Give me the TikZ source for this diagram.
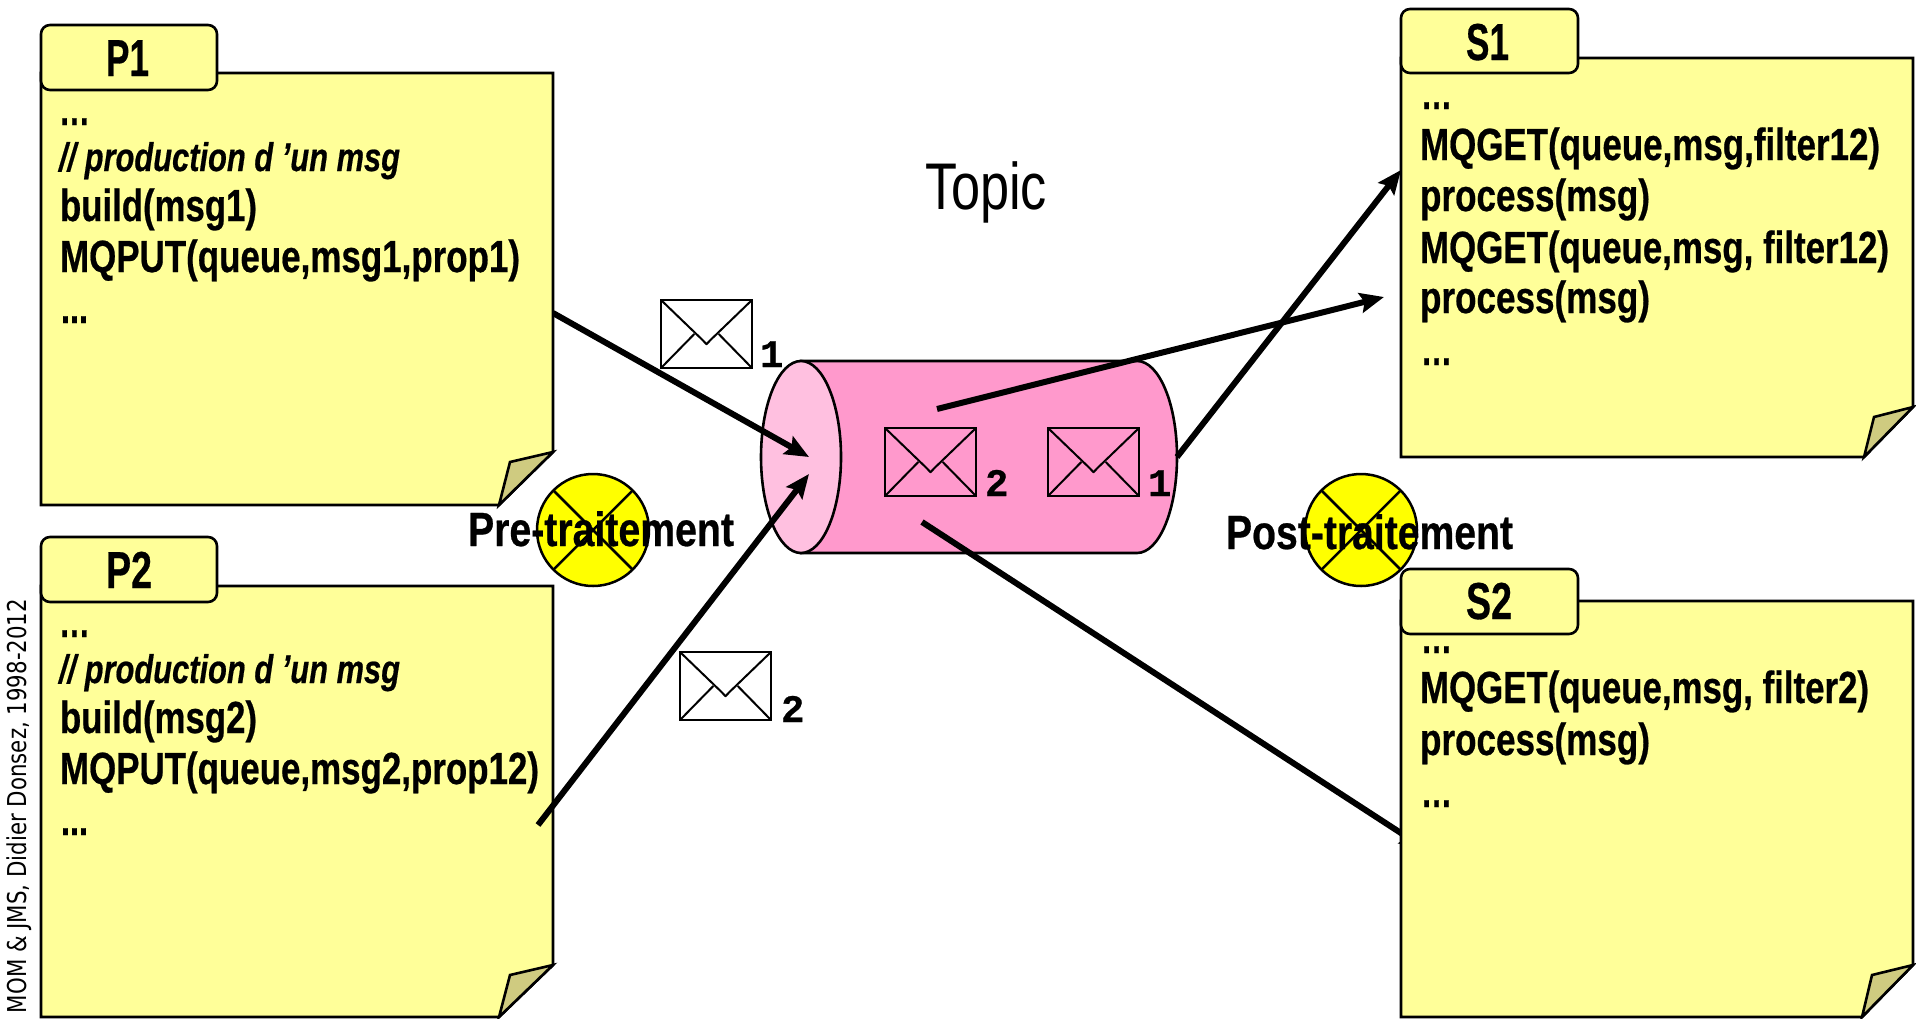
\documentclass[tikz,border=0pt]{standalone}
\usepackage{fontspec}
\usepackage{graphicx}
\setmainfont{Liberation Sans}[BoldFeatures={FakeBold=0.6},BoldItalicFeatures={FakeBold=0.6}]
\newfontfamily\monof{Liberation Mono}[BoldFeatures={FakeBold=0.6}]
\newfontfamily\footf{DejaVu Sans}
\usetikzlibrary{arrows.meta}
\definecolor{noteyellow}{HTML}{FFFF99}
\definecolor{foldcol}{HTML}{CFCB80}
\definecolor{pinkbody}{HTML}{FF99CC}
\definecolor{pinkface}{HTML}{FFC0E0}
\definecolor{xyellow}{HTML}{FFFF00}
\newcommand{\fitw}[2]{\resizebox{#1pt}{\height}{#2}}
% left, top, right, fold y on right, fold x on bottom, bottom, fold inner corner
\newcommand{\notebody}[7]{%
  \draw[noteline,fill=noteyellow] (#1,#2) -- (#3,#2) -- (#3,#4) -- (#5,#6) -- (#1,#6) -- cycle;
  \draw[noteline,fill=foldcol] (#3,#4) -- (#7) -- (#5,#6) -- cycle;
}
\newcommand{\envel}[3]{%
  \begin{scope}[shift={(#2,#3)},x=91pt,y=-68pt]
    \node[envbox,anchor=north west] (#1) at (0,0) {};
    \draw[envline,line join=round] (0,0) -- (.45,.58) -- (.5,.65) -- (.55,.58) -- (1,0);
    \draw[envline] (0,1) -- (.366,.5);
    \draw[envline] (1,1) -- (.634,.5);
  \end{scope}}
\newcommand{\xcircle}[3]{%
  \node[circle,draw,line width=2.5pt,fill=xyellow,minimum size=112pt,inner sep=0pt,outer sep=0pt] (#1) at (#2,#3) {};
  \draw[line width=2.5pt] (#1.45) -- (#1.225);
  \draw[line width=2.5pt] (#1.135) -- (#1.315);}
\tikzset{
  x=1pt,y=-1pt,
  noteline/.style={line width=2.6pt,line join=miter},
  tabbox/.style={draw,line width=2.6pt,fill=noteyellow,rounded corners=9pt,outer sep=0pt,inner sep=0pt,anchor=north west},
  envbox/.style={draw,line width=2.6pt,minimum width=91pt,minimum height=68pt,inner sep=0pt,outer sep=0pt},
  envline/.style={line width=2pt},
  txt/.style={anchor=base west,inner sep=0pt,outer sep=0pt},
  code/.style={txt,font=\fontsize{45}{45}\selectfont\bfseries},
  comment/.style={txt,font=\fontsize{40}{40}\selectfont\bfseries\itshape},
  title/.style={txt,font=\fontsize{52}{52}\selectfont\bfseries},
  plain/.style={txt,font=\fontsize{48}{48}\selectfont\bfseries},
  num/.style={txt,font=\fontsize{39}{39}\selectfont\monof\bfseries},
  conn/.style={line width=6pt,line cap=butt},
  connt/.style={conn,-{Stealth[length=24pt,width=20pt,inset=4pt]}},
}
\begin{document}
\begin{tikzpicture}
\useasboundingbox (0,0) rectangle (1916,1018);
\fill[white] (0,0) rectangle (1916,1018);
% coordinates of connector ends
\coordinate (p1out) at (553,313);
\coordinate (p2out) at (538,825);
\coordinate (topicinA) at (809,457);
\coordinate (topicinB) at (809,474);
\coordinate (s1a) at (937,409);
\coordinate (s1ain) at (1384,297);
\coordinate (s1b) at (1177,457);
\coordinate (s1bin) at (1401,170);
\coordinate (s2a) at (922,522);
\coordinate (s2ain) at (1424,848);
% Cylinder
\draw[line width=2.6pt,fill=pinkbody] (801,361) -- (1137,361) arc[start angle=90,end angle=-90,x radius=40pt,y radius=96pt] -- (801,553) -- cycle;
\draw[line width=2.6pt,fill=pinkface] (801,457) ellipse [x radius=40pt,y radius=96pt];
% circles
\xcircle{pre}{593}{530}
\xcircle{post}{1361}{530}
% envelopes
\envel{e1}{661}{300}
\envel{e2}{680}{652}
\envel{e3}{885}{428}
\envel{e4}{1048}{428}
\node[num] (n1) at (760,367) {1};
\node[num] (n2) at (781,722) {2};
\node[num] (n3) at (985,496) {2};
\node[num] (n4) at (1148,496) {1};
% Connectors behind notes
\draw[connt] (s2a) -- (s2ain);
\draw[connt] (p1out) -- (topicinA);
% P1
\notebody{41}{73}{553}{452}{499}{505}{510,462}
\node[tabbox,minimum width=176pt,minimum height=65pt] (p1tab) at (41,25) {};
\node[title] (p1t) at (106,76) {\fitw{43}{P1}};
\node[code] (p1a) at (59,125) {\fitw{31}{…}};
\node[comment] (p1b) at (59,171) {\fitw{341}{// production d ’un msg}};
\node[code] (p1c) at (60,221) {\fitw{197}{build(msg1)}};
\node[code] (p1d) at (60,272) {\fitw{460}{MQPUT(queue,msg1,prop1)}};
\node[code] (p1e) at (61,323) {\fitw{27}{...}};
% P2
\notebody{41}{586}{553}{965}{499}{1017}{510,975}
\node[tabbox,minimum width=176pt,minimum height=65pt] (p2tab) at (41,537) {};
\node[title] (p2t) at (106,588) {\fitw{46}{P2}};
\node[code] (p2a) at (59,637) {\fitw{31}{…}};
\node[comment] (p2b) at (59,683) {\fitw{341}{// production d ’un msg}};
\node[code] (p2c) at (60,733) {\fitw{197}{build(msg2)}};
\node[code] (p2d) at (60,784) {\fitw{479}{MQPUT(queue,msg2,prop12)}};
\node[code] (p2e) at (61,835) {\fitw{27}{...}};
\draw[connt] (p2out) -- (topicinB);
% S1
\notebody{1401}{58}{1913}{407}{1864}{457}{1874,417}
\node[tabbox,minimum width=177pt,minimum height=64pt] (s1tab) at (1401,9) {};
\node[title] (s1t) at (1466,60) {\fitw{43}{S1}};
\node[code] (s1l1) at (1421,109) {\fitw{31}{…}};
\node[code] (s1l2) at (1420,160) {\fitw{460}{MQGET(queue,msg,filter12)}};
\node[code] (s1l3) at (1420,211) {\fitw{230}{process(msg)}};
\node[code] (s1l4) at (1420,263) {\fitw{469}{MQGET(queue,msg, filter12)}};
\node[code] (s1l5) at (1420,313) {\fitw{230}{process(msg)}};
\node[code] (s1l6) at (1421,365) {\fitw{31}{…}};
\draw[connt] (s1a) -- (s1ain);
\draw[connt] (s1b) -- (s1bin);
% S2
\notebody{1401}{601}{1913}{965}{1862}{1017}{1872,975}
\node[tabbox,minimum width=177pt,minimum height=65pt] (s2tab) at (1401,569) {};
\node[title] (s2t) at (1466,619) {\fitw{46}{S2}};
\node[code] (s2l1) at (1421,653) {\fitw{31}{…}};
\node[code] (s2l2) at (1420,703) {\fitw{449}{MQGET(queue,msg, filter2)}};
\node[code] (s2l3) at (1420,755) {\fitw{230}{process(msg)}};
\node[code] (s2l4) at (1421,807) {\fitw{31}{…}};
% Labels
\node[txt,font=\fontsize{66}{66}\selectfont] (topic) at (925,209) {\fitw{122}{Topic}};
\node[plain] (pretxt) at (468,546) {\fitw{266}{Pre-traitement}};
\node[plain] (posttxt) at (1226,549) {\fitw{287}{Post-traitement}};
\node[txt,rotate=90,font=\fontsize{26}{26}\selectfont\footf] (foot) at (27,1013) {\fitw{414}{MOM \& JMS, Didier Donsez, 1998-2012}};
\end{tikzpicture}
\end{document}
